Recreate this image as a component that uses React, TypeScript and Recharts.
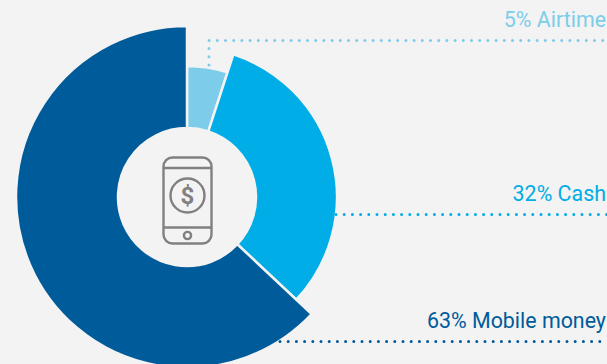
import React from 'react';
import { PieChart, Pie, Cell, Sector } from 'recharts';

const categories = ['Airtime', 'Cash', 'Mobile money'];
const shares = [5, 32, 63];

const colors = ['#7dcdea', '#00ade6', '#005b9a'];
const outerRadii = [131, 150, 171];

// Where each dotted leader runs and where its caption sits
const leaderPaths = ['M209 65 V40.5 H607', 'M336 214.5 H607', 'M280 341.5 H607'];
const captionBaselines = [27, 201, 328];

const BACKGROUND = '#f3f3f3';
const ICON_GREY = '#808080';

const data = categories.map((name, i) => ({ name, value: shares[i] }));

// The chart fills the window edge to edge
document.documentElement.style.background = BACKGROUND;
document.body.style.margin = '0';
document.body.style.overflow = 'hidden';

// Every slice gets its own outer radius, which is what makes the donut stepped
const renderSlice = (props: any) => (
  <Sector {...props} outerRadius={outerRadii[props.index]} />
);

const renderLabel = ({ index }: any) => (
  <g key={categories[index]}>
    <path
      d={leaderPaths[index]}
      fill="none"
      stroke={colors[index]}
      strokeWidth={3}
      strokeLinecap="round"
      strokeDasharray="0 8.2"
    />
    <text
      x={606}
      y={captionBaselines[index]}
      textAnchor="end"
      fill={colors[index]}
      fontFamily="Roboto, sans-serif"
      fontSize={21.4}
    >
      {`${shares[index]}% ${categories[index]}`}
    </text>
  </g>
);

const PhoneIcon = () => (
  <g fill="none" stroke={ICON_GREY} strokeWidth={2.4}>
    <rect x={163.5} y={157.5} width={48} height={86} rx={9} />
    <path d="M163.5 168 H211.5 M163.5 227.5 H211.5" />
    <circle cx={187.5} cy={195.5} r={17} />
    <circle cx={187.5} cy={235.5} r={3.6} />
    <text
      x={187.5}
      y={204}
      textAnchor="middle"
      fill={ICON_GREY}
      stroke="none"
      fontFamily="Roboto, sans-serif"
      fontWeight={700}
      fontSize={24}
    >
      $
    </text>
  </g>
);

export default function App() {
  return (
    <div style={{ width: 607, height: 364, overflow: 'hidden', background: BACKGROUND }}>
      <PieChart width={607} height={364} margin={{ top: 0, right: 0, bottom: 0, left: 0 }}>
        <Pie
          data={data}
          dataKey="value"
          nameKey="name"
          cx={187}
          cy={197}
          innerRadius={69}
          outerRadius={171}
          startAngle={90}
          endAngle={-270}
          stroke={BACKGROUND}
          strokeWidth={2.5}
          shape={renderSlice}
          label={renderLabel}
          labelLine={false}
          isAnimationActive={false}
        >
          {data.map((entry, i) => (
            <Cell key={entry.name} fill={colors[i]} />
          ))}
        </Pie>
        <PhoneIcon />
      </PieChart>
    </div>
  );
}
